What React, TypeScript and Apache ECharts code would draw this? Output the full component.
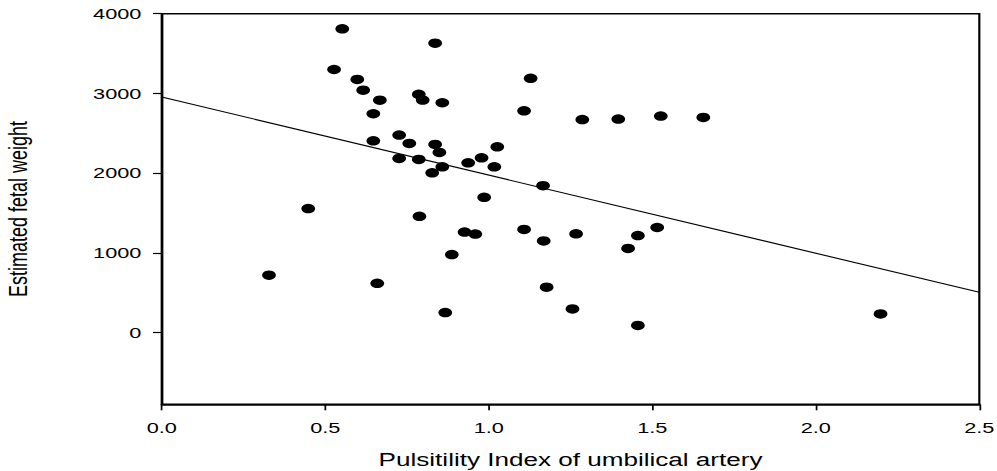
import React, { useEffect, useRef } from "react";
import * as echarts from "echarts";

const piValues = [
  0.328, 0.448, 0.527, 0.552, 0.598, 0.616, 0.647, 0.647, 0.659, 0.667,
  0.726, 0.726, 0.757, 0.786, 0.798, 0.786, 0.788, 0.827, 0.836, 0.836,
  0.849, 0.858, 0.858, 0.867, 0.887, 0.926, 0.937, 0.959, 0.978, 0.986,
  1.017, 1.026, 1.108, 1.108, 1.128, 1.166, 1.168, 1.177, 1.256, 1.267,
  1.286, 1.396, 1.426, 1.456, 1.456, 1.515, 1.526, 1.656, 2.198,
];
const efwValues = [
  720, 1555, 3300, 3810, 3175, 3040, 2745, 2405, 617, 2915,
  2477, 2184, 2373, 2988, 2916, 2172, 1458, 2004, 3630, 2360,
  2260, 2883, 2079, 251, 979, 1261, 2129, 1236, 2192, 1697,
  2079, 2330, 2782, 1293, 3189, 1843, 1150, 569, 296, 1238,
  2672, 2678, 1055, 1216, 90, 1318, 2716, 2699, 234,
];
const regressionX = [0, 2.5];
const regressionY = [2955, 505];
const yTickValues = [0, 1000, 2000, 3000, 4000];
const xTickValues = [0, 0.5, 1.0, 1.5, 2.0, 2.5];

const xTitle = "Pulsitility Index of umbilical artery";
const yTitle = "Estimated fetal weight";

const STRETCH = 997 / 688;

export default function App() {
  const ref = useRef<HTMLDivElement>(null);
  useEffect(() => {
    if (!ref.current) return;
    const chart = echarts.init(ref.current, null, { renderer: "svg" });
    const font = "'Liberation Sans', Arial, sans-serif";
    chart.setOption({
      animation: false,
      backgroundColor: "#ffffff",
      grid: {
        left: 111.6,
        right: 12.2,
        top: 13.7,
        bottom: 66.7,
        containLabel: false,
        outerBoundsMode: "none",
        show: true,
        borderColor: "#000",
        borderWidth: 1.5,
      },
      xAxis: {
        type: "value",
        min: 0,
        max: 2.5,
        interval: 0.5,
        name: xTitle,
        nameLocation: "middle",
        nameGap: 47,
        nameTextStyle: { fontFamily: font, fontSize: 18, color: "#000" },
        axisLine: { show: true, onZero: false, lineStyle: { color: "#000", width: 1.5 } },
        axisTick: {
          show: true,
          inside: false,
          length: 6,
          lineStyle: { color: "#000", width: 1.2 },
          customValues: xTickValues,
        },
        axisLabel: {
          fontFamily: font,
          fontSize: 15,
          color: "#000",
          margin: 16,
          customValues: xTickValues,
          formatter: (v: number) => v.toFixed(1),
        },
        splitLine: { show: false },
      },
      yAxis: {
        type: "value",
        min: -900,
        max: 4000,
        name: yTitle,
        nameLocation: "middle",
        nameRotate: 90,
        nameGap: 90,
        nameTextStyle: { fontFamily: font, fontSize: 18, color: "#000" },
        axisLine: { show: true, onZero: false, lineStyle: { color: "#000", width: 1.5 } },
        axisTick: {
          show: true,
          inside: false,
          length: 6,
          lineStyle: { color: "#000", width: 1.2 },
          customValues: yTickValues,
        },
        axisLabel: {
          fontFamily: font,
          fontSize: 15,
          color: "#000",
          margin: 14,
          customValues: yTickValues,
          formatter: (v: number) => String(v),
        },
        splitLine: { show: false },
      },
      series: [
        {
          type: "line",
          data: regressionX.map((x, i) => [x, regressionY[i]]),
          showSymbol: false,
          symbol: "none",
          lineStyle: { color: "#000", width: 1.1 },
          z: 1,
        },
        {
          type: "scatter",
          data: piValues.map((x, i) => [x, efwValues[i]]),
          symbol: "circle",
          symbolSize: 9.5,
          itemStyle: { color: "#000", opacity: 1 },
          z: 2,
        },
      ],
    });
    return () => chart.dispose();
  }, []);
  return (
    <div
      style={{
        position: "fixed",
        left: 0,
        top: 0,
        width: 997,
        height: 471,
        overflow: "hidden",
        background: "#fff",
      }}
    >
      <div
        ref={ref}
        style={{
          width: 688,
          height: 471,
          transform: `scaleX(${STRETCH})`,
          transformOrigin: "0 0",
        }}
      />
    </div>
  );
}
